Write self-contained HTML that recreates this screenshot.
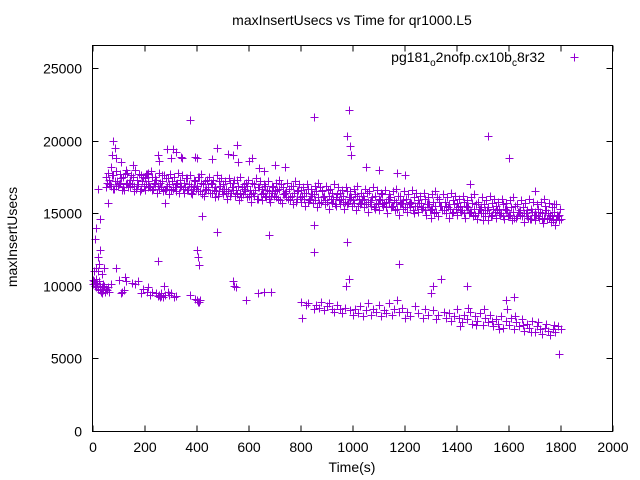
<!DOCTYPE html>
<html><head><meta charset="utf-8"><style>
body{margin:0;background:#fff}
svg{display:block;font-family:"Liberation Sans",sans-serif}
</style></head><body>
<svg id="chart" width="640" height="480" viewBox="0 0 640 480">
<rect x="0" y="0" width="640" height="480" fill="#fff"/>
<text x="352" y="25" text-anchor="middle" font-size="14">maxInsertUsecs vs Time for qr1000.L5</text>
<text transform="translate(17,237) rotate(-90)" text-anchor="middle" font-size="14">maxInsertUsecs</text>
<text x="352" y="472" text-anchor="middle" font-size="14">Time(s)</text>
<g id="axes"></g>
<g id="points"></g>
<g>
<text x="545" y="62" text-anchor="end" font-size="14">pg181<tspan font-size="10" dy="4">o</tspan><tspan dy="-4">2nofp.cx10b</tspan><tspan font-size="10" dy="4">c</tspan><tspan dy="-4">8r32</tspan></text>
<path d="M570.5 57.5h8M574.5 53.5v8" stroke="#9400d3" stroke-width="1"/>
</g>
<rect x="92.5" y="45.5" width="520" height="386" fill="none" stroke="#000" stroke-width="1"/>
</svg>
<script>
const xTicks=[0,200,400,600,800,1000,1200,1400,1600,1800,2000];
const yTicks=[0,5000,10000,15000,20000,25000];
// upper band rows: x starts 50 step 15, values in hundreds of usecs
const bandX0=50, bandStep=15;
const rowA=[175,173,176,172,174,177,171,175,173,176,174,172,175,173,171,176,174,172,170,173,171,174,169,172,175,170,173,171,168,172,170,167,171,173,169,168,171,166,170,168,167,169,165,168,166,170,164,167,169,165,166,164,167,163,165,168,162,166,164,161,164,162,165,161,163,160,162,164,159,162,160,163,158,161,159,162,157,160,158,161,159,157,160,156,158,161,155,158,156,159,157,155,158,154,157,156,153,156,154,157,155,153,156,152,154,155,151,154,152,153,151,153,150,152,149,151,148];
const rowB=[168,170,167,169,166,170,168,165,169,167,166,169,167,164,168,166,163,167,165,168,164,166,163,167,165,162,166,164,161,165,163,160,164,162,159,163,161,158,162,160,159,161,158,162,160,157,161,159,156,160,158,155,159,157,154,158,156,153,157,155,156,153,157,155,152,156,154,151,155,153,152,155,150,154,152,149,153,151,154,150,151,153,149,152,150,148,152,150,147,151,149,151,147,150,148,146,150,148,145,149,147,149,146,148,145,147,149,144,148,146,145,147,143,146,144,142,145];
const rowC=[171,169,172,170,168,171,173,169,170,172,170,168,171,169,172,167,170,168,171,169,168,170,167,169,171,166,168,170,165,169,167,165,168,166,164,167,169,163,166,168,164,166,162,165,167,163,165,161,164,166,162,164,160,163,161,165,159,162,160,163,160,158,161,159,162,157,160,158,161,156,159,157,160,155,158,156,159,154,157,155,157,154,156,153,155,158,152,155,153,156,154,152,155,151,153,150,154,152,150,153,152,150,153,149,151,148,152,150,147,151,149,151,147,150,148,146,149];
const rowD=[178,176,179,177,175,178,176,180,177,175,177,179,175,178,176,174,177,175,178,176,174,176,173,175,177,172,175,173,176,174,172,174,171,173,175,170,173,171,174,172,170,172,169,171,173,168,171,169,172,170,168,170,167,169,171,166,169,167,170,168,166,168,165,167,169,164,167,165,168,166,164,166,163,165,167,162,165,163,166,164,162,164,161,163,165,160,163,161,164,162,160,162,159,161,163,158,161,159,162,160,158,160,157,159,161,156,159,157,160,158,156,158,155,157,154,156,153];
const rowE=[170,167,169,171,166,168,170,167,165,169,168,166,170,167,165,169,166,168,164,167,166,164,168,165,163,167,164,166,162,165,164,162,166,163,161,165,162,164,160,163,162,160,164,161,159,163,160,162,158,161,160,158,162,159,157,161,158,160,156,159,158,156,160,157,155,159,156,158,154,157,156,154,158,155,153,157,154,156,152,155,154,152,156,153,151,155,152,154,150,153,152,150,154,151,149,153,150,152,148,151,150,148,152,149,147,151,148,150,146,149,148,146,150,147,145,149,146];
// scattered points: [time, value in hundreds]
const extraPts=[[75,190],[80,200],[85,195],[90,188],[70,182],[110,185],[130,180],[155,183],[205,177],[215,178],[250,190],[255,186],[285,194],[300,188],[310,194],[320,192],[340,189],[345,188],[375,214],[395,189],[400,188],[460,187],[480,195],[520,191],[540,190],[555,197],[560,185],[600,186],[615,188],[640,181],[660,179],[700,183],[740,182],[850,216],[985,221],[980,203],[990,196],[995,190],[1050,182],[1100,180],[1170,178],[1200,176],[1520,203],[1600,188],[1450,170],[1700,165],[1735,160],[1775,156],
[60,157],[30,146],[280,157],[420,148],[480,137],[680,135],[850,142],[980,130],[1300,147],[1500,145],[20,167],[10,132],[15,140]];
const lowPts=[[0,104],[3,101],[5,103],[8,100],[10,102],[12,99],[15,105],[18,101],[20,110],[22,98],[25,103],[28,97],[30,100],[33,96],[35,99],[38,95],[40,101],[42,97],[45,100],[48,96],[50,98],[55,97],[58,99],[62,96],[25,115],[20,120],[30,125],[35,108],[45,112],[5,110],[15,112],
[70,101],[90,112],[100,104],[110,95],[115,96],[120,97],[125,106],[130,103],[150,102],[165,101],[175,103],[185,95],[195,98],[210,96],[215,99],[220,94],[230,96],[245,95],[250,93],[255,94],[258,92],[262,95],[265,93],[270,92],[275,100],[280,94],[290,96],[295,94],[300,95],[315,92],[320,93],[250,117],
[375,94],[395,91],[400,90],[405,89],[410,89],[415,90],[400,125],[405,120],[408,114],
[540,103],[545,100],[550,99],[590,90],[635,95],[660,96],[685,96],
[800,89],[805,78],[820,87],[830,88],[850,84],[860,87],[870,85],[880,89],[890,83],[900,86],[910,88],[920,84],[930,82],[940,87],[950,84],[960,81],[970,85],[975,100],[985,105],[990,83],[1000,80],[850,123],
[1010,84],[1020,81],[1030,86],[1040,79],[1050,83],[1060,88],[1070,80],[1080,84],[1090,82],[1100,87],[1110,79],[1120,83],[1130,81],[1140,88],[1150,80],[1160,84],[1170,90],[1180,82],[1190,85],[1200,78],[1180,115],
[1210,82],[1220,79],[1240,86],[1250,81],[1270,78],[1280,84],[1290,80],[1300,95],[1310,83],[1320,77],[1330,80],[1340,105],[1350,82],[1360,78],[1370,81],[1380,76],[1390,79],[1400,84],[1310,100],
[1410,78],[1420,75],[1430,80],[1440,77],[1450,82],[1460,74],[1470,79],[1480,76],[1490,81],[1500,73],[1510,78],[1520,75],[1530,80],[1540,72],[1550,77],[1560,74],[1570,79],[1580,71],[1590,76],[1600,73],[1610,78],[1620,70],[1630,75],[1640,72],[1650,77],[1660,69],[1670,74],[1680,71],[1690,76],[1700,68],[1710,72],[1720,70],[1730,67],[1740,71],[1750,69],[1760,66],[1770,70],[1780,68],[1790,72],[1795,53],[1415,72],[1445,85],[1475,73],[1505,84],[1535,76],[1565,70],[1595,84],[1625,79],[1655,73],[1685,68],[1715,75],[1745,74],[1775,73],[1800,70],[1440,100],[1590,90],[1620,92]];

const L=92.5,R=612.5,T=45.5,B=431.5;
function sx(v){return L+(v-0)/2000*(R-L);}
function sy(v){return 431-v/25000*363;}
const NS='http://www.w3.org/2000/svg';
const axes=document.getElementById('axes');
const pts=document.getElementById('points');
function mk(tag,attrs,parent){const e=document.createElementNS(NS,tag);for(const k in attrs)e.setAttribute(k,attrs[k]);parent.appendChild(e);return e;}
xTicks.forEach(t=>{
  const x=Math.round(sx(t));
  const p=mk('path',{d:`M${x} ${B}v-6M${x} ${T}v6`,stroke:'#000','stroke-width':1},axes);
  
  
  const tx=mk('text',{x:x,y:452,'text-anchor':'middle','font-size':14},axes);
  tx.textContent=t;
  
  
});
yTicks.forEach(t=>{
  const y=Math.round(sy(t))+0.5;
  const p=mk('path',{d:`M${L} ${y}h6M${R} ${y}h-6`,stroke:'#000','stroke-width':1},axes);
  
  
  const tx=mk('text',{x:82,y:y+5,'text-anchor':'end','font-size':14},axes);
  tx.textContent=t;
  
  
});
let d='';
function add(t,v){const x=Math.round(sx(t))+0.5,y=Math.round(sy(v))+0.5;d+=`M${x-4} ${y}h8M${x} ${y-4}v8`;}
[rowA,rowB,rowC,rowD,rowE].forEach((row,ri)=>row.forEach((v,i)=>add(bandX0+bandStep*i+ri*3,v*100)));
extraPts.forEach(p=>add(p[0],p[1]*100));
lowPts.forEach(p=>add(p[0],p[1]*100));
const path=mk('path',{d:d,stroke:'#9400d3','stroke-width':1,fill:'none'},pts);


</script>
</body></html>
